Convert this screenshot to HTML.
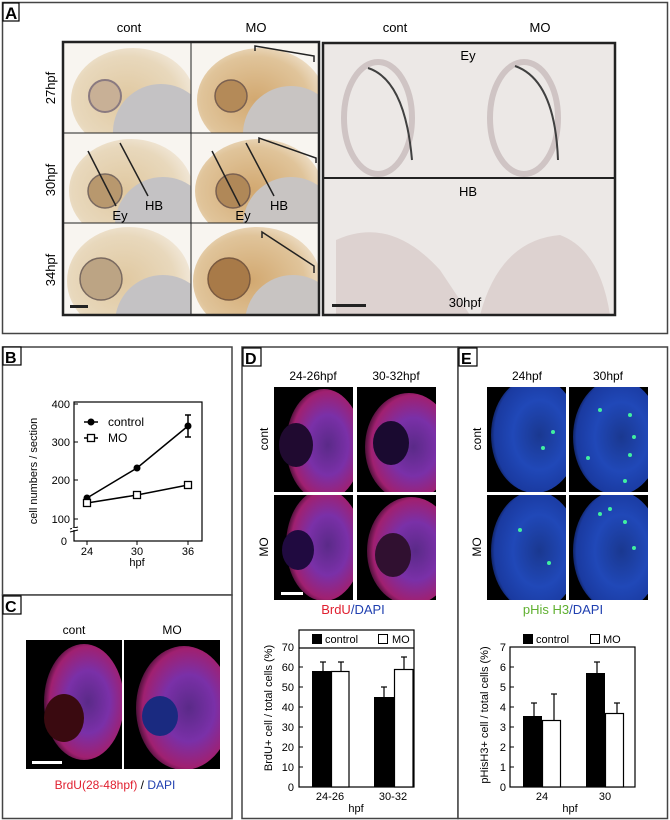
<!DOCTYPE html>
<html><head><meta charset="utf-8"><style>
body{margin:0;background:#fff}
svg{display:block;font-family:"Liberation Sans",Arial,sans-serif}
</style></head><body>
<svg width="670" height="820" viewBox="0 0 670 820" xmlns="http://www.w3.org/2000/svg">
<defs>
<radialGradient id="emb" cx="0.45" cy="0.5" r="0.6"><stop offset="0" stop-color="#e0c8a0"/><stop offset="0.7" stop-color="#e8d8bc"/><stop offset="1" stop-color="#f4ece0"/></radialGradient>
<radialGradient id="embMO" cx="0.45" cy="0.5" r="0.6"><stop offset="0" stop-color="#d2a870"/><stop offset="0.7" stop-color="#e0c49a"/><stop offset="1" stop-color="#f2e6d4"/></radialGradient>
<radialGradient id="fluR" cx="0.55" cy="0.5" r="0.6"><stop offset="0" stop-color="#5a2a88"/><stop offset="0.45" stop-color="#7a30a8"/><stop offset="0.8" stop-color="#a02070"/><stop offset="1" stop-color="#100510"/></radialGradient>
<radialGradient id="fluB" cx="0.55" cy="0.5" r="0.6"><stop offset="0" stop-color="#1a3890"/><stop offset="0.5" stop-color="#2048b8"/><stop offset="0.85" stop-color="#1a3aa0"/><stop offset="1" stop-color="#050a20"/></radialGradient>
</defs>

<!-- Panel A -->
<rect x="2.5" y="2.5" width="665" height="331" fill="#fff" stroke="#444" stroke-width="1.5"/>
<rect x="3" y="3" width="16" height="18" fill="#fff" stroke="#000" stroke-width="1.2"/>
<text x="5" y="19" font-size="17" font-weight="bold">A</text>
<g font-size="13" text-anchor="middle">
<text x="129" y="32">cont</text><text x="256" y="32">MO</text>
<text x="395" y="32">cont</text><text x="540" y="32">MO</text>
</g>
<g font-size="13" text-anchor="middle">
<text transform="translate(55,88) rotate(-90)">27hpf</text>
<text transform="translate(55,180) rotate(-90)">30hpf</text>
<text transform="translate(55,270) rotate(-90)">34hpf</text>
</g>
<svg x="63" y="42" width="128" height="91"><rect width="128" height="91" fill="#f8f5f0"/>
<ellipse cx="70" cy="58" rx="62" ry="52" fill="url(#emb)"/><circle cx="98" cy="90" r="48" fill="#c4c2c4"/>
<circle cx="42" cy="54" r="16" fill="#c8b096" stroke="#8a7a80" stroke-width="2"/></svg>
<svg x="191" y="42" width="128" height="91"><rect width="128" height="91" fill="#f8f5f0"/>
<ellipse cx="70" cy="58" rx="64" ry="52" fill="url(#embMO)"/><circle cx="100" cy="92" r="48" fill="#c8c4c2"/>
<circle cx="40" cy="54" r="16" fill="#b48a58" stroke="#7a6050" stroke-width="1.5"/></svg>
<svg x="63" y="133" width="128" height="90"><rect width="128" height="90" fill="#f8f5f0"/>
<ellipse cx="68" cy="58" rx="62" ry="52" fill="url(#emb)"/><circle cx="100" cy="92" r="48" fill="#c4c2c4"/>
<circle cx="42" cy="58" r="17" fill="#b8986e" stroke="#7a6a60" stroke-width="1.5"/></svg>
<svg x="191" y="133" width="128" height="90"><rect width="128" height="90" fill="#f8f5f0"/>
<ellipse cx="68" cy="58" rx="64" ry="52" fill="url(#embMO)"/><circle cx="100" cy="92" r="48" fill="#c8c4c2"/>
<circle cx="42" cy="58" r="17" fill="#b08858" stroke="#7a6050" stroke-width="1.5"/></svg>
<svg x="63" y="223" width="128" height="92"><rect width="128" height="92" fill="#f8f5f0"/>
<ellipse cx="66" cy="58" rx="62" ry="54" fill="url(#emb)"/><circle cx="100" cy="100" r="48" fill="#c4c2c4"/>
<circle cx="38" cy="56" r="21" fill="#bca484" stroke="#7a6a60" stroke-width="1.5"/></svg>
<svg x="191" y="223" width="128" height="92"><rect width="128" height="92" fill="#f8f5f0"/>
<ellipse cx="66" cy="58" rx="64" ry="54" fill="url(#embMO)"/><circle cx="102" cy="100" r="48" fill="#c8c4c2"/>
<circle cx="38" cy="56" r="21" fill="#a87a48" stroke="#7a5a40" stroke-width="1.5"/></svg>
<rect x="63" y="42" width="256" height="273" fill="none" stroke="#222" stroke-width="2.5"/>
<line x1="191" y1="42" x2="191" y2="315" stroke="#222" stroke-width="1"/>
<line x1="63" y1="133" x2="319" y2="133" stroke="#222" stroke-width="1"/>
<line x1="63" y1="223" x2="319" y2="223" stroke="#222" stroke-width="1"/>
<g fill="none" stroke="#222" stroke-width="1.5">
<path d="M255 51 V46 L314 56 V62"/>
<path d="M259 143 V138 L316 158 V163"/>
<path d="M262 238 V232 L314 266 V273"/>
<line x1="88" y1="151" x2="116" y2="206"/><line x1="120" y1="143" x2="148" y2="196"/>
<line x1="212" y1="151" x2="240" y2="206"/><line x1="246" y1="143" x2="274" y2="196"/>
</g>
<g font-size="13" text-anchor="middle">
<text x="120" y="220">Ey</text><text x="154" y="210">HB</text>
<text x="243" y="220">Ey</text><text x="279" y="210">HB</text>
</g>
<rect x="70" y="305" width="18" height="3" fill="#222"/>
<svg x="323" y="43" width="292" height="272"><rect width="292" height="272" fill="#ece8e6"/>
<g fill="none" stroke="#cfc4c4" stroke-width="6">
<ellipse cx="55" cy="75" rx="34" ry="56"/><ellipse cx="201" cy="75" rx="34" ry="56"/></g>
<g fill="none" stroke="#404040" stroke-width="2">
<path d="M45 25 Q82 37 89 117"/><path d="M192 23 Q232 37 235 117"/></g>
<path d="M13 197 Q67 172 117 227 L147 272 L13 272Z" fill="#ddd2d0"/>
<path d="M157 272 Q177 197 237 192 Q277 207 287 272Z" fill="#ddd2d0"/>
</svg>
<rect x="323" y="43" width="292" height="272" fill="none" stroke="#222" stroke-width="2.5"/>
<line x1="323" y1="178" x2="615" y2="178" stroke="#222" stroke-width="2"/>
<g font-size="13" text-anchor="middle">
<text x="468" y="60">Ey</text><text x="468" y="196">HB</text><text x="465" y="307">30hpf</text>
</g>
<rect x="332" y="304" width="34" height="3" fill="#222"/>

<!-- Panel B -->
<rect x="2.5" y="347" width="229.5" height="248" fill="#fff" stroke="#444" stroke-width="1.5"/>
<rect x="3" y="347" width="18" height="18" fill="#fff" stroke="#000" stroke-width="1.2"/>
<text x="5" y="363" font-size="16" font-weight="bold">B</text>
<rect x="74" y="402" width="128" height="139" fill="none" stroke="#000" stroke-width="1.2"/>
<g font-size="11" text-anchor="end">
<text x="70" y="408">400</text><text x="70" y="446">300</text><text x="70" y="484">200</text><text x="70" y="523">100</text><text x="67" y="545">0</text>
</g>
<g stroke="#000" stroke-width="1"><line x1="74" y1="404" x2="78" y2="404"/><line x1="74" y1="442" x2="78" y2="442"/><line x1="74" y1="480" x2="78" y2="480"/><line x1="74" y1="519" x2="78" y2="519"/>
<line x1="87" y1="541" x2="87" y2="545"/><line x1="137" y1="541" x2="137" y2="545"/><line x1="188" y1="541" x2="188" y2="545"/>
<line x1="70" y1="529" x2="78" y2="527"/><line x1="70" y1="532" x2="78" y2="530"/></g>
<rect x="72" y="528" width="4" height="2" fill="#fff"/>
<g font-size="11" text-anchor="middle"><text x="87" y="555">24</text><text x="137" y="555">30</text><text x="188" y="555">36</text><text x="137" y="566">hpf</text></g>
<text transform="translate(37,471) rotate(-90)" font-size="11" text-anchor="middle">cell numbers / section</text>
<g stroke="#000" stroke-width="1.5" fill="none">
<polyline points="87,498 137,468 188,426"/><polyline points="87,503 137,495 188,485"/>
<line x1="188" y1="415" x2="188" y2="437"/><line x1="185" y1="415" x2="191" y2="415"/><line x1="185" y1="437" x2="191" y2="437"/>
<line x1="84" y1="422" x2="98" y2="422"/><line x1="84" y1="438" x2="98" y2="438"/>
</g>
<g fill="#000"><circle cx="87" cy="498" r="3.5"/><circle cx="137" cy="468" r="3.5"/><circle cx="188" cy="426" r="3.5"/><circle cx="91" cy="422" r="3.5"/></g>
<g fill="#fff" stroke="#000" stroke-width="1.3"><rect x="83.5" y="499.5" width="7" height="7"/><rect x="133.5" y="491.5" width="7" height="7"/><rect x="184.5" y="481.5" width="7" height="7"/><rect x="87.5" y="434.5" width="7" height="7"/></g>
<g font-size="12"><text x="108" y="426">control</text><text x="108" y="442">MO</text></g>

<!-- Panel C -->
<rect x="2.5" y="595" width="229.5" height="223.5" fill="#fff" stroke="#444" stroke-width="1.5"/>
<rect x="3" y="596" width="18" height="18" fill="#fff" stroke="#000" stroke-width="1.2"/>
<text x="5" y="612" font-size="16" font-weight="bold">C</text>
<g font-size="12" text-anchor="middle"><text x="74" y="634">cont</text><text x="172" y="634">MO</text></g>
<svg x="26" y="640" width="96" height="129"><rect width="96" height="129" fill="#000"/>
<ellipse cx="58" cy="62" rx="40" ry="58" fill="url(#fluR)"/>
<ellipse cx="38" cy="78" rx="20" ry="24" fill="#3a0a10"/></svg>
<svg x="124" y="640" width="96" height="129"><rect width="96" height="129" fill="#000"/>
<ellipse cx="60" cy="68" rx="48" ry="62" fill="url(#fluR)"/>
<ellipse cx="36" cy="76" rx="18" ry="20" fill="#1a2a80"/></svg>
<rect x="32" y="761" width="30" height="3" fill="#fff"/>
<text x="115" y="789" font-size="12" text-anchor="middle"><tspan fill="#e02030">BrdU(28-48hpf)</tspan> / <tspan fill="#2040b0">DAPI</tspan></text>

<!-- Panel D -->
<rect x="242" y="347" width="216" height="471.5" fill="#fff" stroke="#444" stroke-width="1.5"/>
<rect x="243" y="348" width="18" height="18" fill="#fff" stroke="#000" stroke-width="1.2"/>
<text x="245" y="364" font-size="16" font-weight="bold">D</text>
<g font-size="12" text-anchor="middle"><text x="313" y="380">24-26hpf</text><text x="396" y="380">30-32hpf</text>
<text transform="translate(268,439) rotate(-90)">cont</text><text transform="translate(268,547) rotate(-90)">MO</text></g>
<svg x="274" y="387" width="79" height="105"><rect width="79" height="105" fill="#000"/><ellipse cx="50" cy="58" rx="38" ry="56" fill="url(#fluR)"/><ellipse cx="22" cy="58" rx="17" ry="22" fill="#200a30"/></svg>
<svg x="357" y="387" width="79" height="105"><rect width="79" height="105" fill="#000"/><ellipse cx="52" cy="60" rx="44" ry="54" fill="url(#fluR)"/><ellipse cx="34" cy="56" rx="18" ry="22" fill="#1a0a30"/></svg>
<svg x="274" y="495" width="79" height="105"><rect width="79" height="105" fill="#000"/><ellipse cx="50" cy="50" rx="38" ry="56" fill="url(#fluR)"/><ellipse cx="24" cy="55" rx="16" ry="20" fill="#200a40"/></svg>
<svg x="357" y="495" width="79" height="105"><rect width="79" height="105" fill="#000"/><ellipse cx="54" cy="56" rx="44" ry="54" fill="url(#fluR)"/><ellipse cx="36" cy="60" rx="18" ry="22" fill="#301030"/></svg>
<rect x="281" y="592" width="22" height="3" fill="#fff"/>
<text x="353" y="614" font-size="13" text-anchor="middle"><tspan fill="#e02030">BrdU</tspan><tspan fill="#2040b0">/DAPI</tspan></text>
<rect x="299" y="630" width="115" height="157" fill="none" stroke="#000" stroke-width="1.2"/>
<line x1="299" y1="648" x2="414" y2="648" stroke="#000" stroke-width="1.2"/>
<rect x="312" y="634" width="10" height="10" fill="#000"/><text x="325" y="643" font-size="11">control</text>
<rect x="378.5" y="634.5" width="9" height="9" fill="#fff" stroke="#000"/><text x="392" y="643" font-size="11">MO</text>
<g font-size="11" text-anchor="end">
<text x="294" y="651">70</text><text x="294" y="671">60</text><text x="294" y="691">50</text><text x="294" y="711">40</text><text x="294" y="731">30</text><text x="294" y="751">20</text><text x="294" y="771">10</text><text x="294" y="791">0</text></g>
<g stroke="#000"><line x1="299" y1="667" x2="303" y2="667"/><line x1="299" y1="687" x2="303" y2="687"/><line x1="299" y1="707" x2="303" y2="707"/><line x1="299" y1="727" x2="303" y2="727"/><line x1="299" y1="747" x2="303" y2="747"/><line x1="299" y1="767" x2="303" y2="767"/></g>
<g stroke="#000" stroke-width="1.2">
<line x1="323" y1="671" x2="323" y2="662"/><line x1="320" y1="662" x2="326" y2="662"/>
<line x1="341" y1="671" x2="341" y2="662"/><line x1="338" y1="662" x2="344" y2="662"/>
<line x1="384" y1="697" x2="384" y2="687"/><line x1="381" y1="687" x2="387" y2="687"/>
<line x1="404" y1="669" x2="404" y2="657"/><line x1="401" y1="657" x2="407" y2="657"/></g>
<rect x="312" y="671" width="19" height="116" fill="#000"/>
<rect x="331.5" y="671.5" width="17.5" height="115.5" fill="#fff" stroke="#000" stroke-width="1.2"/>
<rect x="374" y="697" width="20" height="90" fill="#000"/>
<rect x="394.5" y="669.5" width="18.5" height="117.5" fill="#fff" stroke="#000" stroke-width="1.2"/>
<g font-size="11" text-anchor="middle"><text x="330" y="800">24-26</text><text x="393" y="800">30-32</text><text x="356" y="812">hpf</text></g>
<text transform="translate(272,708) rotate(-90)" font-size="11" text-anchor="middle">BrdU+ cell / total cells (%)</text>

<!-- Panel E -->
<rect x="458" y="347" width="209.5" height="471.5" fill="#fff" stroke="#444" stroke-width="1.5"/>
<rect x="459" y="348" width="18" height="18" fill="#fff" stroke="#000" stroke-width="1.2"/>
<text x="461" y="364" font-size="16" font-weight="bold">E</text>
<g font-size="12" text-anchor="middle"><text x="527" y="380">24hpf</text><text x="608" y="380">30hpf</text>
<text transform="translate(481,439) rotate(-90)">cont</text><text transform="translate(481,547) rotate(-90)">MO</text></g>
<svg x="487" y="387" width="79" height="105"><rect width="79" height="105" fill="#000"/><ellipse cx="48" cy="48" rx="44" ry="58" fill="url(#fluB)"/></svg>
<svg x="569" y="387" width="79" height="105"><rect width="79" height="105" fill="#000"/><ellipse cx="48" cy="50" rx="44" ry="58" fill="url(#fluB)"/></svg>
<svg x="487" y="495" width="79" height="105"><rect width="79" height="105" fill="#000"/><ellipse cx="48" cy="56" rx="44" ry="60" fill="url(#fluB)"/></svg>
<svg x="569" y="495" width="79" height="105"><rect width="79" height="105" fill="#000"/><ellipse cx="48" cy="56" rx="44" ry="60" fill="url(#fluB)"/></svg>
<g fill="#40f0a0"><circle cx="553" cy="432" r="2"/><circle cx="543" cy="448" r="2"/><circle cx="600" cy="410" r="2"/><circle cx="630" cy="415" r="2"/><circle cx="634" cy="437" r="2"/><circle cx="630" cy="455" r="2"/><circle cx="625" cy="481" r="2"/><circle cx="588" cy="458" r="2"/><circle cx="520" cy="530" r="2"/><circle cx="549" cy="563" r="2"/><circle cx="610" cy="509" r="2"/><circle cx="600" cy="514" r="2"/><circle cx="625" cy="522" r="2"/><circle cx="634" cy="548" r="2"/></g>
<text x="563" y="614" font-size="13" text-anchor="middle"><tspan fill="#60b030">pHis H3</tspan><tspan fill="#2040b0">/DAPI</tspan></text>
<rect x="510" y="647" width="125" height="140" fill="none" stroke="#000" stroke-width="1.2"/>
<rect x="523" y="634" width="10" height="10" fill="#000"/><text x="536" y="643" font-size="11">control</text>
<rect x="590.5" y="634.5" width="9" height="9" fill="#fff" stroke="#000"/><text x="603" y="643" font-size="11">MO</text>
<g font-size="11" text-anchor="end">
<text x="506" y="651">7</text><text x="506" y="671">6</text><text x="506" y="691">5</text><text x="506" y="711">4</text><text x="506" y="731">3</text><text x="506" y="751">2</text><text x="506" y="771">1</text><text x="506" y="791">0</text></g>
<g stroke="#000"><line x1="510" y1="667" x2="514" y2="667"/><line x1="510" y1="687" x2="514" y2="687"/><line x1="510" y1="707" x2="514" y2="707"/><line x1="510" y1="727" x2="514" y2="727"/><line x1="510" y1="747" x2="514" y2="747"/><line x1="510" y1="767" x2="514" y2="767"/></g>
<g stroke="#000" stroke-width="1.2">
<line x1="534" y1="716" x2="534" y2="703"/><line x1="531" y1="703" x2="537" y2="703"/>
<line x1="554" y1="720" x2="554" y2="694"/><line x1="551" y1="694" x2="557" y2="694"/>
<line x1="597" y1="673" x2="597" y2="662"/><line x1="594" y1="662" x2="600" y2="662"/>
<line x1="617" y1="713" x2="617" y2="703"/><line x1="614" y1="703" x2="620" y2="703"/></g>
<rect x="523" y="716" width="19" height="71" fill="#000"/>
<rect x="542.5" y="720.5" width="18" height="66.5" fill="#fff" stroke="#000" stroke-width="1.2"/>
<rect x="586" y="673" width="19" height="114" fill="#000"/>
<rect x="605.5" y="713.5" width="18" height="73.5" fill="#fff" stroke="#000" stroke-width="1.2"/>
<g font-size="11" text-anchor="middle"><text x="542" y="800">24</text><text x="605" y="800">30</text><text x="570" y="812">hpf</text></g>
<text transform="translate(488,715) rotate(-90)" font-size="11" text-anchor="middle">pHisH3+ cell / total cells (%)</text>
</svg>
</body></html>
